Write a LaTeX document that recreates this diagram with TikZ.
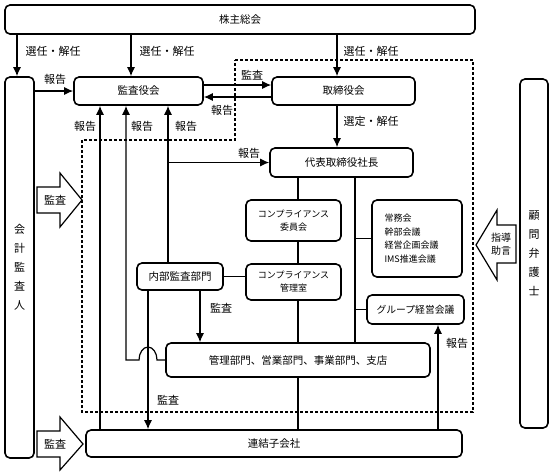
\documentclass[tikz,border=0pt]{standalone}
\usepackage{fontspec}
\setmainfont{Noto Sans CJK JP}
\usepackage{tikz}
\usetikzlibrary{arrows.meta, positioning}

\begin{document}
\begin{tikzpicture}[
    x=1pt, y=-1pt,
    >={Latex[length=9pt,width=8pt]},
    orgbox/.style={rectangle, draw, line width=1.6pt, rounded corners=5pt, inner sep=0pt, align=center, font=\fontsize{10.5}{13}\selectfont},
    smallbox/.style={orgbox, font=\fontsize{9}{13}\selectfont},
    link/.style={line width=1.2pt},
    lbl/.style={inner sep=0pt, font=\fontsize{11}{13}\selectfont},
    dotline/.style={line width=2.6pt, dash pattern=on 2.6pt off 2.4pt},
    fatarrow/.style={draw, line width=1.2pt, fill=white, line join=miter}
]
\useasboundingbox (0,0) rectangle (553,475);

% Internal control area
\draw[dotline] (235,60) -- (473,60) -- (473,412) -- (82,412) -- (82,140) -- (235,140) -- cycle;

% Shareholders, outside parties
\node[orgbox, minimum width=470pt, minimum height=29pt] (gm) at (240,19.5) {株主総会};
\node[orgbox, minimum width=29pt, minimum height=381pt, font=\fontsize{11}{19}\selectfont] (auditor) at (19.5,267.5) {会\\計\\監\\査\\人};
\node[orgbox, minimum width=28pt, minimum height=349pt, font=\fontsize{11}{19}\selectfont] (lawyer) at (534,253.5) {顧\\問\\弁\\護\\士};

% Boards
\node[orgbox, minimum width=129pt, minimum height=28pt] (kansayaku) at (138.5,91) {監査役会};
\node[orgbox, minimum width=143pt, minimum height=28pt] (board) at (343.5,91) {取締役会};
\node[orgbox, minimum width=143pt, minimum height=29pt] (ceo) at (341.5,162.5) {代表取締役社長};

% Committees
\node[smallbox, minimum width=95pt, minimum height=41pt] (comm) at (293.5,220.5) {コンプライアンス\\委員会};
\node[smallbox, minimum width=95pt, minimum height=36pt] (office) at (293.5,282) {コンプライアンス\\管理室};
\node[smallbox, minimum width=90pt, minimum height=77pt, text width=65pt, align=left, font=\fontsize{9}{13.5}\selectfont] (meet) at (417,238.5) {常務会\\幹部会議\\経営企画会議\\ IMS推進会議};
\node[orgbox, minimum width=86pt, minimum height=27pt] (naibu) at (180,276.5) {内部監査部門};
\node[orgbox, minimum width=97pt, minimum height=29pt, font=\fontsize{9.8}{12}\selectfont] (group) at (415.5,309.5) {グループ経営会議};

% Operations
\node[orgbox, minimum width=264pt, minimum height=34pt] (dept) at (298,360) {管理部門、営業部門、事業部門、支店};
\node[orgbox, minimum width=376pt, minimum height=27pt] (sub) at (274,443.5) {連結子会社};

% Line positions
\coordinate (xk) at (17,0);
\coordinate (xi) at (131,0);
\coordinate (xj) at (337,0);
\coordinate (xa) at (100,0);
\coordinate (xb) at (126,0);
\coordinate (xc) at (168,0);
\coordinate (xd) at (148,0);
\coordinate (xe) at (200,0);
\coordinate (xf) at (298,0);
\coordinate (xg) at (355,0);
\coordinate (xh) at (438,0);
\coordinate (hop) at (157,360);

% Appointments
\draw[->, link] (xk |- gm.south) -- (xk |- auditor.north);
\draw[->, link] (xi |- gm.south) -- (xi |- kansayaku.north);
\draw[->, link] (xj |- gm.south) -- (xj |- board.north);
\draw[->, link] (xj |- board.south) -- (xj |- ceo.north);
\node[lbl] (l1) at (53,51) {選任・解任};
\node[lbl] (l2) at (167,51) {選任・解任};
\node[lbl] (l3) at (371,51) {選任・解任};
\node[lbl] (l4) at (371,121) {選定・解任};

% Audit and reports
\draw[->, link] (auditor.east |- kansayaku.west) -- (kansayaku.west);
\node[lbl] (l5) at (55,79) {報告};
\draw[->, link] ([yshift=6pt]kansayaku.east) -- ([yshift=6pt]board.west);
\node[lbl] (l6) at (252,75) {監査};
\draw[->, link] ([yshift=-6pt]board.west) -- ([yshift=-6pt]kansayaku.east);
\node[lbl] (l7) at (222,110) {報告};

\draw[->, link] (xa |- sub.north) -- (xa |- kansayaku.south);
\node[lbl] (l8) at (85,126) {報告};
\draw[->, link] (dept.west) -- (hop) arc[start angle=0, end angle=180, x radius=9pt, y radius=13pt] -- (xb |- dept.west) -- (xb |- kansayaku.south);
\node[lbl] (l9) at (142,126) {報告};
\draw[->, link] (xc |- naibu.north) -- (xc |- kansayaku.south);
\node[lbl] (l10) at (186,126) {報告};
\draw[->, link] (xc |- ceo.west) -- (ceo.west);
\node[lbl] (l11) at (249,153) {報告};

\draw[->, link] (xd |- naibu.south) -- (xd |- sub.north);
\node[lbl] (l12) at (168,400) {監査};
\draw[->, link] (xe |- naibu.south) -- (xe |- dept.north);
\node[lbl] (l13) at (221,308) {監査};
\draw[link] (naibu.east) -- (naibu.east -| office.west);

% Management lines
\draw[link] (xf |- ceo.south) -- (xf |- comm.north)
            (xf |- comm.south) -- (xf |- office.north)
            (xf |- office.south) -- (xf |- dept.north)
            (xf |- dept.south) -- (xf |- sub.north);
\draw[link] (xg |- ceo.south) -- (xg |- dept.north);
\draw[link] (xg |- meet.west) -- (meet.west);
\draw[link] (xg |- group.west) -- (group.west);
\draw[->, link] (xh |- sub.north) -- (xh |- group.south);
\node[lbl] (l14) at (457,343) {報告};

% Big arrows
\draw[fatarrow] (37,187) -- (60,187) -- (60,173) -- (82,200) -- (60,227) -- (60,213) -- (37,213) -- cycle;
\node[lbl] (a1) at (55,200) {監査};
\draw[fatarrow] (37,431) -- (60,431) -- (60,417) -- (83,444) -- (60,470) -- (60,457) -- (37,457) -- cycle;
\node[lbl] (a2) at (55,444) {監査};
\draw[fatarrow] (516,225) -- (497,225) -- (497,210) -- (476,245) -- (497,280) -- (497,263) -- (516,263) -- cycle;
\node[lbl, align=center, font=\fontsize{10}{13}\selectfont] (a3) at (501,244) {指導\\助言};

\end{tikzpicture}
\end{document}
